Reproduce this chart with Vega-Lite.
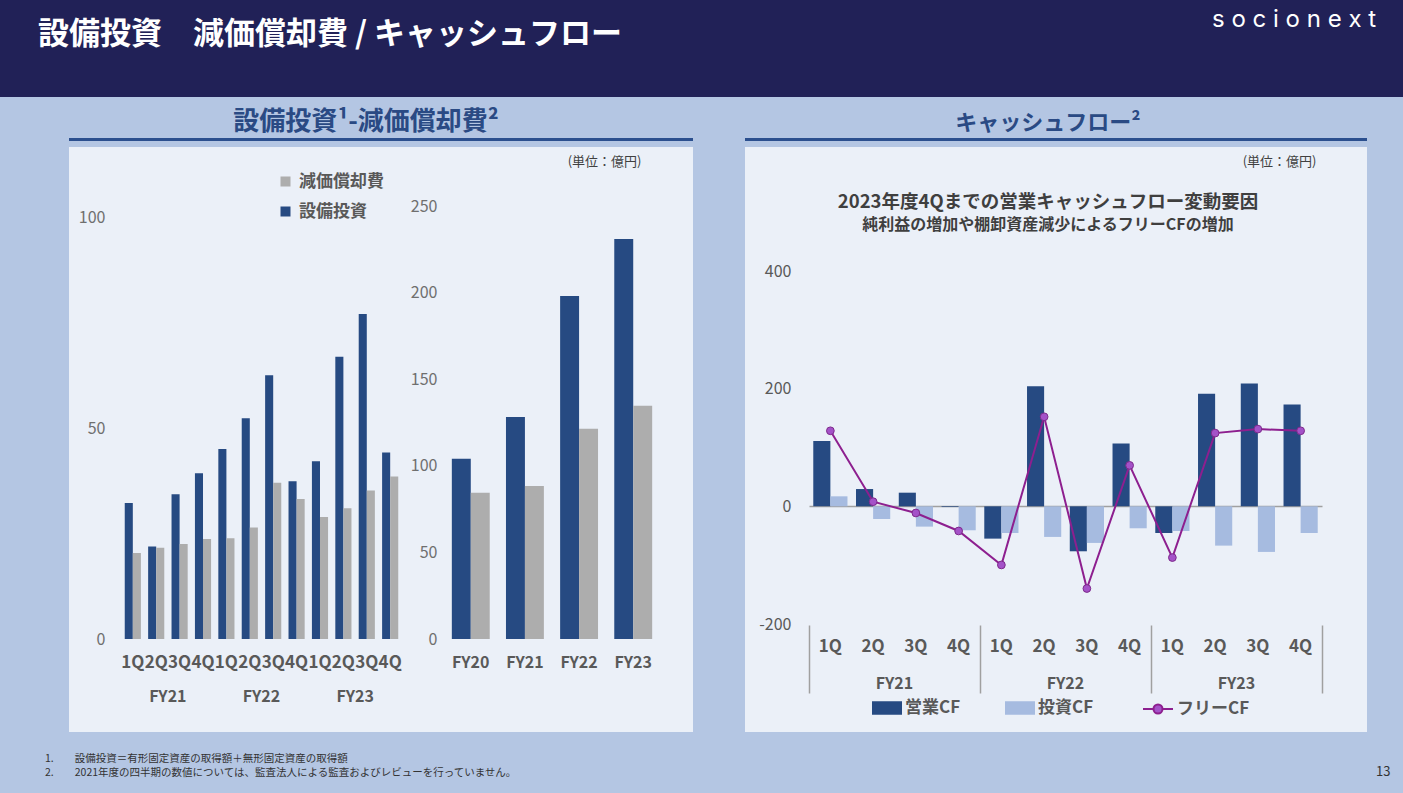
{
  "$schema": "https://vega.github.io/schema/vega-lite/v6.json",
  "padding": 0,
  "background": "#b4c6e3",
  "spacing": 12,
  "config": {
    "font": "Noto Sans CJK JP",
    "view": {"stroke": null},
    "axis": {"labelFont": "Noto Sans CJK JP", "titleFont": "Noto Sans CJK JP", "grid": false, "domain": false, "ticks": false, "tickSize": 0},
    "legend": {"labelFont": "Noto Sans CJK JP", "titleFont": "Noto Sans CJK JP"},
    "title": {"font": "Noto Sans CJK JP", "subtitleFont": "Noto Sans CJK JP"}
  },
  "datasets": {
    "quarterly": [
      {"key": "FY21-1Q", "series": "設備投資", "value": 32.2}, {"key": "FY21-1Q", "series": "減価償却費", "value": 20.4},
      {"key": "FY21-2Q", "series": "設備投資", "value": 21.9}, {"key": "FY21-2Q", "series": "減価償却費", "value": 21.6},
      {"key": "FY21-3Q", "series": "設備投資", "value": 34.3}, {"key": "FY21-3Q", "series": "減価償却費", "value": 22.5},
      {"key": "FY21-4Q", "series": "設備投資", "value": 39.3}, {"key": "FY21-4Q", "series": "減価償却費", "value": 23.7},
      {"key": "FY22-1Q", "series": "設備投資", "value": 45.0}, {"key": "FY22-1Q", "series": "減価償却費", "value": 23.9},
      {"key": "FY22-2Q", "series": "設備投資", "value": 52.3}, {"key": "FY22-2Q", "series": "減価償却費", "value": 26.4},
      {"key": "FY22-3Q", "series": "設備投資", "value": 62.5}, {"key": "FY22-3Q", "series": "減価償却費", "value": 37.0},
      {"key": "FY22-4Q", "series": "設備投資", "value": 37.4}, {"key": "FY22-4Q", "series": "減価償却費", "value": 33.2},
      {"key": "FY23-1Q", "series": "設備投資", "value": 42.1}, {"key": "FY23-1Q", "series": "減価償却費", "value": 28.9},
      {"key": "FY23-2Q", "series": "設備投資", "value": 66.9}, {"key": "FY23-2Q", "series": "減価償却費", "value": 31.0},
      {"key": "FY23-3Q", "series": "設備投資", "value": 77.0}, {"key": "FY23-3Q", "series": "減価償却費", "value": 35.2},
      {"key": "FY23-4Q", "series": "設備投資", "value": 44.2}, {"key": "FY23-4Q", "series": "減価償却費", "value": 38.5}
    ],
    "annual": [
      {"fy": "FY20", "series": "設備投資", "value": 104.1}, {"fy": "FY20", "series": "減価償却費", "value": 84.5},
      {"fy": "FY21", "series": "設備投資", "value": 128.2}, {"fy": "FY21", "series": "減価償却費", "value": 88.4},
      {"fy": "FY22", "series": "設備投資", "value": 198.1}, {"fy": "FY22", "series": "減価償却費", "value": 121.4},
      {"fy": "FY23", "series": "設備投資", "value": 231.0}, {"fy": "FY23", "series": "減価償却費", "value": 134.6}
    ],
    "fy3": [{"fy": "FY21"}, {"fy": "FY22"}, {"fy": "FY23"}],
    "cf": [
      {"key": "FY21-1Q", "series": "営業CF", "value": 110.9}, {"key": "FY21-1Q", "series": "投資CF", "value": 17.0},
      {"key": "FY21-2Q", "series": "営業CF", "value": 29.4}, {"key": "FY21-2Q", "series": "投資CF", "value": -21.5},
      {"key": "FY21-3Q", "series": "営業CF", "value": 23.2}, {"key": "FY21-3Q", "series": "投資CF", "value": -34.5},
      {"key": "FY21-4Q", "series": "営業CF", "value": -1.2}, {"key": "FY21-4Q", "series": "投資CF", "value": -40.7},
      {"key": "FY22-1Q", "series": "営業CF", "value": -54.9}, {"key": "FY22-1Q", "series": "投資CF", "value": -45.3},
      {"key": "FY22-2Q", "series": "営業CF", "value": 204.2}, {"key": "FY22-2Q", "series": "投資CF", "value": -52.0},
      {"key": "FY22-3Q", "series": "営業CF", "value": -76.4}, {"key": "FY22-3Q", "series": "投資CF", "value": -62.2},
      {"key": "FY22-4Q", "series": "営業CF", "value": 106.9}, {"key": "FY22-4Q", "series": "投資CF", "value": -37.3},
      {"key": "FY23-1Q", "series": "営業CF", "value": -45.3}, {"key": "FY23-1Q", "series": "投資CF", "value": -41.9},
      {"key": "FY23-2Q", "series": "営業CF", "value": 191.2}, {"key": "FY23-2Q", "series": "投資CF", "value": -66.8},
      {"key": "FY23-3Q", "series": "営業CF", "value": 208.8}, {"key": "FY23-3Q", "series": "投資CF", "value": -77.5},
      {"key": "FY23-4Q", "series": "営業CF", "value": 173.1}, {"key": "FY23-4Q", "series": "投資CF", "value": -45.3}
    ],
    "free": [
      {"key": "FY21-1Q", "series": "フリーCF", "value": 128.4},
      {"key": "FY21-2Q", "series": "フリーCF", "value": 7.9},
      {"key": "FY21-3Q", "series": "フリーCF", "value": -11.3},
      {"key": "FY21-4Q", "series": "フリーCF", "value": -41.9},
      {"key": "FY22-1Q", "series": "フリーCF", "value": -99.6},
      {"key": "FY22-2Q", "series": "フリーCF", "value": 152.2},
      {"key": "FY22-3Q", "series": "フリーCF", "value": -139.7},
      {"key": "FY22-4Q", "series": "フリーCF", "value": 69.6},
      {"key": "FY23-1Q", "series": "フリーCF", "value": -87.1},
      {"key": "FY23-2Q", "series": "フリーCF", "value": 124.5},
      {"key": "FY23-3Q", "series": "フリーCF", "value": 131.3},
      {"key": "FY23-4Q", "series": "フリーCF", "value": 128.4}
    ]
  },
  "vconcat": [
    {
      "spacing": 0,
      "hconcat": [
        {
          "width": 1100, "height": 97,
          "view": {"fill": "#212157"},
          "data": {"values": []},
          "mark": "rect",
          "title": {"text": "設備投資\u3000減価償却費 / キャッシュフロー", "anchor": "start", "dx": 38, "offset": -51, "fontSize": 31, "fontWeight": "bold", "color": "#ffffff"}
        },
        {
          "width": 303, "height": 97,
          "view": {"fill": "#212157"},
          "data": {"values": []},
          "mark": "rect",
          "title": {"text": "s o c i o n e x t", "anchor": "start", "dx": 112, "offset": -32, "fontSize": 24, "fontWeight": "normal", "font": "Inter", "color": "#ffffff"}
        }
      ]
    },
    {
      "spacing": 52,
      "hconcat": [
        {"width": 17, "height": 1, "data": {"values": []}, "mark": "rect"},
        {
          "spacing": 6,
          "vconcat": [
            {
              "width": 624, "height": 3,
              "view": {"fill": "#2b4f8e"},
              "data": {"values": []},
              "mark": "rect",
              "title": {"text": "設備投資¹-減価償却費²", "anchor": "middle", "dx": -15, "offset": 3, "fontSize": 26, "fontWeight": "bold", "color": "#2a4a84"}
            },
            {
              "width": 624, "height": 585,
              "view": {"fill": "#ebf0f8"},
              "resolve": {"scale": {"x": "independent", "y": "independent", "xOffset": "independent", "color": "independent"}, "axis": {"x": "independent", "y": "independent"}},
              "layer": [
                {
                  "data": {"name": "quarterly"},
                  "mark": {"type": "bar"},
                  "encoding": {
                    "x": {"field": "key", "type": "nominal", "sort": null,
                      "scale": {"range": [52, 333], "paddingInner": 0.31, "paddingOuter": 0.16},
                      "axis": {"orient": "bottom", "title": null, "labelExpr": "split(datum.value, '-')[1]", "offset": -93, "labelPadding": 15, "labelFontSize": 17, "labelFontWeight": "bold", "labelColor": "#595959", "labelAngle": 0, "labelOverlap": false}},
                    "xOffset": {"field": "series", "type": "nominal", "sort": ["設備投資", "減価償却費"], "scale": {"paddingInner": 0, "paddingOuter": 0}},
                    "y": {"field": "value", "type": "quantitative",
                      "scale": {"domain": [0, 100], "range": [492, 70], "nice": false},
                      "axis": {"orient": "left", "title": null, "values": [0, 50, 100], "offset": -40, "labelPadding": 4, "labelFontSize": 16, "labelColor": "#6f6f6f"}},
                    "color": {"field": "series", "type": "nominal",
                      "scale": {"domain": ["減価償却費", "設備投資"], "range": ["#adadad", "#264a82"]},
                      "legend": {"orient": "none", "legendX": 208, "legendY": 26, "title": null, "direction": "vertical", "symbolType": "square", "symbolSize": 100, "symbolStrokeWidth": 0, "labelFontSize": 17, "labelFontWeight": "bold", "labelColor": "#595959", "rowPadding": 12, "labelOffset": 5}}
                  }
                },
                {
                  "data": {"name": "fy3"},
                  "mark": {"type": "text", "fontSize": 16, "fontWeight": "bold", "color": "#595959", "baseline": "middle"},
                  "encoding": {
                    "x": {"field": "fy", "type": "nominal", "sort": null, "scale": {"range": [52, 333], "paddingInner": 0, "paddingOuter": 0}, "axis": null},
                    "y": {"datum": -13.7, "type": "quantitative", "scale": {"domain": [0, 100], "range": [492, 70], "nice": false}, "axis": null},
                    "text": {"field": "fy"}
                  }
                },
                {
                  "data": {"name": "annual"},
                  "mark": {"type": "bar"},
                  "encoding": {
                    "x": {"field": "fy", "type": "nominal", "sort": null,
                      "scale": {"range": [372, 594], "paddingInner": 0.3, "paddingOuter": 0.2},
                      "axis": {"orient": "bottom", "title": null, "offset": -93, "labelPadding": 15, "labelFontSize": 16, "labelFontWeight": "bold", "labelColor": "#595959", "labelAngle": 0}},
                    "xOffset": {"field": "series", "type": "nominal", "sort": ["設備投資", "減価償却費"], "scale": {"paddingInner": 0, "paddingOuter": 0}},
                    "y": {"field": "value", "type": "quantitative",
                      "scale": {"domain": [0, 250], "range": [492, 59], "nice": false},
                      "axis": {"orient": "left", "title": "(単位：億円)", "values": [0, 50, 100, 150, 200, 250], "offset": -372, "labelPadding": 4, "labelFontSize": 16, "labelColor": "#6f6f6f",
                        "titleAngle": 0, "titleX": 200, "titleY": 14, "titleAlign": "right", "titleBaseline": "middle", "titleFontSize": 13, "titleFontWeight": "normal", "titleColor": "#404040"}},
                    "color": {"field": "series", "type": "nominal", "scale": {"domain": ["減価償却費", "設備投資"], "range": ["#adadad", "#264a82"]}, "legend": null}
                  }
                }
              ]
            }
          ]
        },
        {
          "spacing": 6,
          "vconcat": [
            {
              "width": 622, "height": 3,
              "view": {"fill": "#2b4f8e"},
              "data": {"values": []},
              "mark": "rect",
              "title": {"text": "キャッシュフロー²", "anchor": "middle", "dx": -8, "offset": 3, "fontSize": 22, "fontWeight": "bold", "color": "#2a4a84"}
            },
            {
              "width": 622, "height": 585,
              "view": {"fill": "#ebf0f8"},
              "title": {"text": "2023年度4Qまでの営業キャッシュフロー変動要因", "subtitle": "純利益の増加や棚卸資産減少によるフリーCFの増加", "anchor": "middle", "dx": -8, "offset": -86, "fontSize": 18.5, "fontWeight": "bold", "color": "#3f3f3f", "subtitleFontSize": 16, "subtitleFontWeight": "bold", "subtitleColor": "#3f3f3f", "subtitlePadding": 6},
              "resolve": {"scale": {"x": "independent", "y": "independent", "xOffset": "independent", "color": "independent", "stroke": "independent"}, "axis": {"x": "independent", "y": "independent"}},
              "layer": [
                {
                  "data": {"name": "cf"},
                  "mark": {"type": "bar"},
                  "encoding": {
                    "x": {"field": "key", "type": "nominal", "sort": null,
                      "scale": {"range": [64, 577], "paddingInner": 0.2, "paddingOuter": 0.1},
                      "axis": {"orient": "bottom", "title": null, "labelExpr": "split(datum.value, '-')[1]", "offset": -107, "labelPadding": 13, "labelFontSize": 17, "labelFontWeight": "bold", "labelColor": "#595959", "labelAngle": 0, "labelOverlap": false}},
                    "xOffset": {"field": "series", "type": "nominal", "sort": ["営業CF", "投資CF"], "scale": {"paddingInner": 0, "paddingOuter": 0}},
                    "y": {"field": "value", "type": "quantitative",
                      "scale": {"domain": [-200, 400], "range": [477, 124], "nice": false, "zero": false},
                      "axis": {"orient": "left", "title": "(単位：億円)", "values": [-200, 0, 200, 400], "labelExpr": "datum.value < 0 ? '-' + abs(datum.value) : '' + datum.value", "offset": -50, "labelPadding": 4, "labelFontSize": 16, "labelColor": "#595959",
                        "titleAngle": 0, "titleX": 521, "titleY": 14, "titleAlign": "right", "titleBaseline": "middle", "titleFontSize": 13, "titleFontWeight": "normal", "titleColor": "#404040"}},
                    "color": {"field": "series", "type": "nominal",
                      "scale": {"domain": ["営業CF", "投資CF"], "range": ["#264a82", "#a6bbe0"]},
                      "legend": {"orient": "none", "legendX": 127, "legendY": 546, "title": null, "direction": "horizontal", "symbolType": "M-1,-0.45H1V0.45H-1Z", "symbolSize": 900, "symbolStrokeWidth": 0, "labelFontSize": 17, "labelFontWeight": "bold", "labelColor": "#595959", "columnPadding": 44, "labelOffset": 3}}
                  }
                },
                {
                  "data": {"name": "free"},
                  "mark": {"type": "line", "strokeWidth": 2},
                  "encoding": {
                    "x": {"field": "key", "type": "nominal", "sort": null,
                      "scale": {"range": [64, 577], "paddingInner": 0.2, "paddingOuter": 0.1},
                      "axis": {"orient": "bottom", "title": null, "labels": false, "domain": true, "domainColor": "#a0a0a0", "domainWidth": 1.5, "offset": -226}},
                    "y": {"field": "value", "type": "quantitative", "scale": {"domain": [-200, 400], "range": [477, 124], "nice": false, "zero": false}, "axis": null},
                    "stroke": {"field": "series", "type": "nominal",
                      "scale": {"domain": ["フリーCF"], "range": ["#8d1f8f"]},
                      "legend": {"orient": "none", "legendX": 397, "legendY": 546, "title": null, "symbolType": "M-1,0L-0.3,0M0.3,0L1,0M-0.3,0A0.3,0.3,0,1,0,0.3,0A0.3,0.3,0,1,0,-0.3,0Z", "symbolSize": 900, "symbolStrokeWidth": 2, "symbolFillColor": "#a452c8", "labelFontSize": 17, "labelFontWeight": "bold", "labelColor": "#595959", "labelOffset": 3}}
                  }
                },
                {
                  "data": {"name": "free"},
                  "mark": {"type": "point", "filled": true, "size": 60, "fill": "#a452c8", "stroke": "#7e2a8c", "strokeWidth": 1, "opacity": 1},
                  "encoding": {
                    "x": {"field": "key", "type": "nominal", "sort": null, "scale": {"range": [64, 577], "paddingInner": 0.2, "paddingOuter": 0.1}, "axis": null},
                    "y": {"field": "value", "type": "quantitative", "scale": {"domain": [-200, 400], "range": [477, 124], "nice": false, "zero": false}, "axis": null}
                  }
                },
                {
                  "data": {"name": "fy3"},
                  "mark": {"type": "text", "fontSize": 16, "fontWeight": "bold", "color": "#595959", "baseline": "middle"},
                  "encoding": {
                    "x": {"field": "fy", "type": "nominal", "sort": null,
                      "scale": {"range": [64, 577], "paddingInner": 0, "paddingOuter": 0},
                      "axis": {"orient": "bottom", "title": null, "labels": false, "ticks": true, "tickBand": "extent", "tickSize": 68, "tickColor": "#a0a0a0", "tickWidth": 1.5, "offset": -107}},
                    "y": {"datum": -302, "type": "quantitative", "scale": {"domain": [-200, 400], "range": [477, 124], "nice": false, "zero": false}, "axis": null},
                    "text": {"field": "fy"}
                  }
                }
              ]
            }
          ]
        }
      ]
    },
    {
      "spacing": 0,
      "hconcat": [
        {
          "width": 1340, "height": 51,
          "data": {"values": []},
          "mark": "rect",
          "title": {"text": ["1.\u3000\u3000設備投資＝有形固定資産の取得額＋無形固定資産の取得額", "2.\u3000\u30002021年度の四半期の数値については、監査法人による監査およびレビューを行っていません。"], "anchor": "start", "dx": 45, "offset": -34, "fontSize": 10.5, "fontWeight": "normal", "color": "#333333", "lineHeight": 14}
        },
        {
          "width": 63, "height": 51,
          "data": {"values": []},
          "mark": "rect",
          "title": {"text": "13", "anchor": "start", "dx": 36, "offset": -35, "fontSize": 13, "fontWeight": "normal", "color": "#333333"}
        }
      ]
    }
  ]
}
